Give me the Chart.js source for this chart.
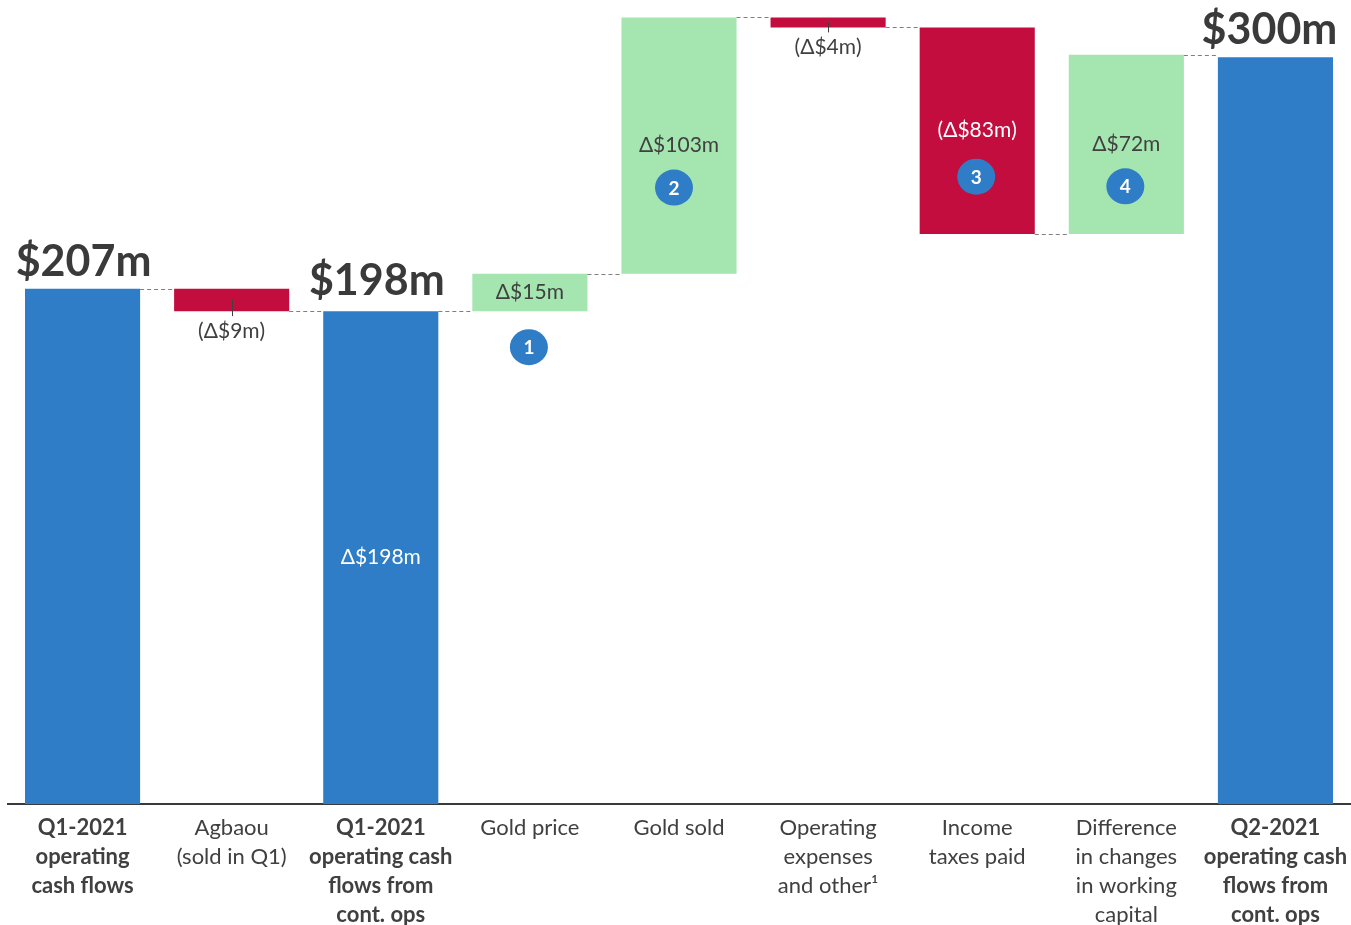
<!DOCTYPE html>
<html>
<head>
<meta charset="utf-8">
<title>Operating cash flow bridge</title>
<script src="https://cdn.jsdelivr.net/npm/chart.js@4.4.1/dist/chart.umd.min.js"></script>
<style>
  html, body { margin: 0; padding: 0; background: #ffffff; }
  #wrap { width: 1351px; height: 925px; position: relative; }
</style>
</head>
<body>
<div id="wrap"><canvas id="bridge"></canvas></div>
<script>
// Bridge categories (one entry per line of the axis label)
const categories = [
  ['Q1-2021', 'operating', 'cash flows'],
  ['Agbaou', '(sold in Q1)'],
  ['Q1-2021', 'operating cash', 'flows from', 'cont. ops'],
  ['Gold price'],
  ['Gold sold'],
  ['Operating', 'expenses', 'and other\u00B9'],
  ['Income', 'taxes paid'],
  ['Difference', 'in changes', 'in working', 'capital'],
  ['Q2-2021', 'operating cash', 'flows from', 'cont. ops']
];

// Amounts in US$ millions: totals are levels, deltas are changes
const amounts = [207, -9, 198, 15, 103, -4, -83, 72, 300];
const kinds = ['total', 'delta', 'total', 'delta', 'delta', 'delta', 'delta', 'delta', 'total'];

// Value labels written on the chart
const valueLabels = ['$207m', '(\u0394$9m)', '\u0394$198m', '\u0394$15m', '\u0394$103m',
                     '(\u0394$4m)', '(\u0394$83m)', '\u0394$72m', '$300m'];
const totalHeadlines = ['$207m', null, '$198m', null, null, null, null, null, '$300m'];

// Numbered call-outs
const calloutNumbers = [null, null, null, '1', '2', null, '3', '4', null];

// Floating ranges built from the amounts
const ranges = [];
let level = 0;
amounts.forEach((v, i) => {
  if (kinds[i] === 'total') {
    level = v;
    ranges.push([0, v]);
  } else {
    ranges.push([level, level + v]);
    level += v;
  }
});

const BLUE = '#2e7dc6';
const RED = '#c20d3e';
const GREEN = '#a4e5b0';
const TEXT = '#404040';
const FONT = 'Lato, "Open Sans", "DejaVu Sans", sans-serif';

const barColors = amounts.map((v, i) =>
  kinds[i] === 'total' ? BLUE : (v < 0 ? RED : GREEN));

const boldCategory = kinds.map(k => k === 'total');

const bridgeDecor = {
  id: 'bridgeDecor',
  afterDatasetsDraw(chart) {
    const ctx = chart.ctx;
    const meta = chart.getDatasetMeta(0);
    const x = chart.scales.x;
    const y = chart.scales.y;
    const area = chart.chartArea;

    // dashed connectors between neighbouring bars
    ctx.save();
    ctx.strokeStyle = '#7f7f7f';
    ctx.lineWidth = 1;
    ctx.setLineDash([4, 3]);
    for (let i = 0; i < meta.data.length - 1; i++) {
      const a = meta.data[i], b = meta.data[i + 1];
      const lv = ranges[i][1];
      const py = Math.round(y.getPixelForValue(lv)) + 0.5;
      ctx.beginPath();
      ctx.moveTo(a.x + a.width / 2, py);
      ctx.lineTo(b.x - b.width / 2, py);
      ctx.stroke();
    }
    ctx.restore();

    meta.data.forEach((bar, i) => {
      const top = Math.min(bar.y, bar.base);
      const bottom = Math.max(bar.y, bar.base);
      const mid = (top + bottom) / 2;
      const cx = bar.x;

      ctx.save();
      ctx.textAlign = 'center';

      if (kinds[i] === 'total') {
        // headline total above the bar
        ctx.fillStyle = '#3a3a3a';
        ctx.font = 'bold 43px ' + FONT;
        ctx.textBaseline = 'alphabetic';
        const dx = i === 0 ? 1 : (i === 2 ? -4 : -6);
        const gap = i === 2 ? 16 : 13;
        ctx.fillText(totalHeadlines[i], cx + dx, top - gap);
        if (i === 2) {
          ctx.font = '21px ' + FONT;
          ctx.fillStyle = '#ffffff';
          ctx.textBaseline = 'middle';
          ctx.fillText(valueLabels[i], cx, mid);
        }
      } else {
        const thin = bottom - top < 30;
        ctx.font = '21px ' + FONT;
        ctx.textBaseline = 'middle';
        if (thin) {
          // small change: leader tick and label below the bar
          ctx.strokeStyle = TEXT;
          ctx.lineWidth = 1;
          ctx.beginPath();
          ctx.moveTo(Math.round(cx) + 0.5, mid);
          ctx.lineTo(Math.round(cx) + 0.5, bottom + 5);
          ctx.stroke();
          ctx.fillStyle = TEXT;
          ctx.fillText(valueLabels[i], cx, bottom + 20);
        } else {
          ctx.fillStyle = amounts[i] < 0 ? '#ffffff' : TEXT;
          ctx.fillText(valueLabels[i], cx, mid);
        }

        if (calloutNumbers[i]) {
          let ox = cx, oy;
          if (bottom - top < 60) {
            oy = bottom + 36;
            ox = cx - 1;
          } else {
            oy = mid + (i === 6 ? 46 : 42);
            ox = cx - (i === 4 ? 5 : 1);
          }
          ctx.fillStyle = BLUE;
          ctx.beginPath();
          ctx.ellipse(ox, oy, 19, 18, 0, 0, Math.PI * 2);
          ctx.fill();
          ctx.fillStyle = '#ffffff';
          ctx.font = 'bold 19px ' + FONT;
          ctx.fillText(calloutNumbers[i], ox, oy + 1);
        }
      }
      ctx.restore();
    });

    // category labels under the axis
    ctx.save();
    ctx.textAlign = 'center';
    ctx.textBaseline = 'middle';
    ctx.fillStyle = TEXT;
    categories.forEach((lines, i) => {
      const px = x.getPixelForValue(i);
      ctx.font = (boldCategory[i] ? 'bold ' : '') + '22px ' + FONT;
      lines.forEach((line, j) => {
        ctx.fillText(line, px, area.bottom + 24 + j * 29);
      });
    });
    ctx.restore();
  }
};

new Chart(document.getElementById('bridge'), {
  type: 'bar',
  data: {
    labels: categories,
    datasets: [{
      data: ranges,
      backgroundColor: barColors,
      borderWidth: 0,
      borderSkipped: false,
      barPercentage: 0.772,
      categoryPercentage: 1.0
    }]
  },
  options: {
    responsive: true,
    maintainAspectRatio: false,
    animation: false,
    events: [],
    layout: { padding: { left: 8, right: 1, top: 0, bottom: 121 } },
    plugins: {
      legend: { display: false },
      tooltip: { enabled: false }
    },
    scales: {
      x: {
        grid: { display: false, drawTicks: false },
        border: { display: true, color: '#3a3a3a', width: 2 },
        ticks: { display: false }
      },
      y: {
        display: false,
        min: 0,
        max: 323
      }
    }
  },
  plugins: [bridgeDecor]
});
</script>
</body>
</html>
